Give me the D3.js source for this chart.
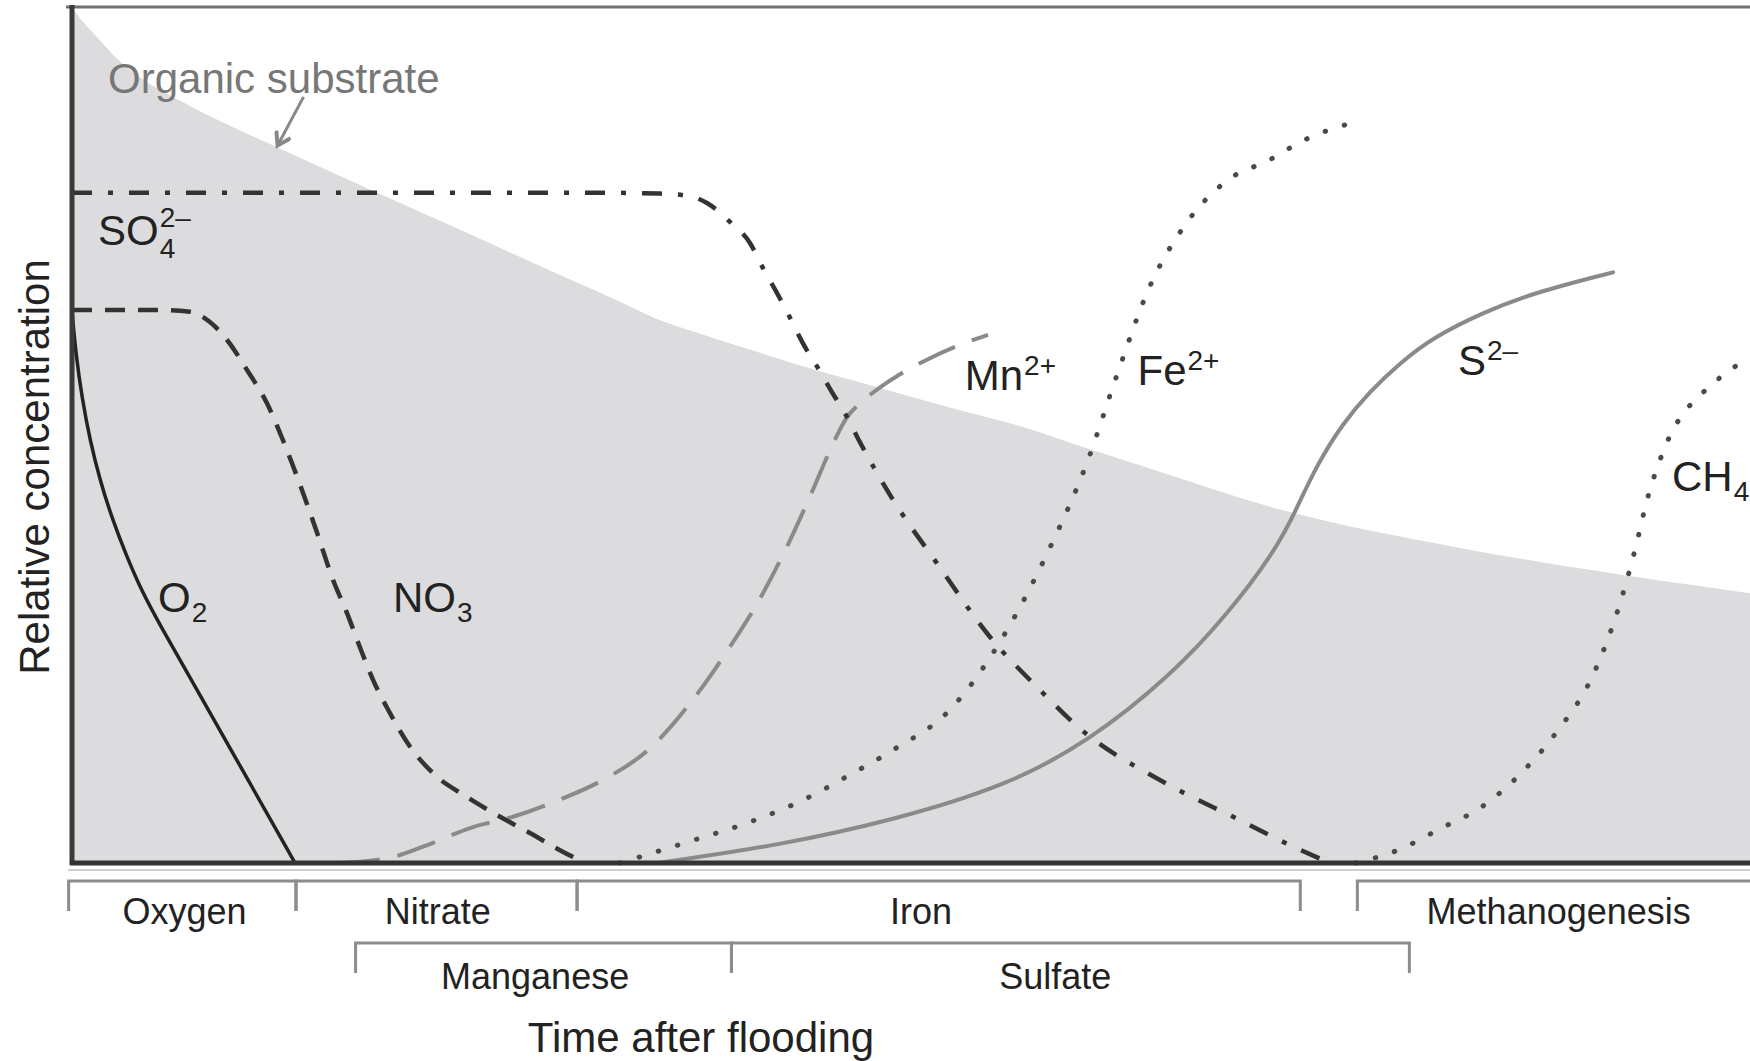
<!DOCTYPE html>
<html>
<head>
<meta charset="utf-8">
<script src="https://cdn.jsdelivr.net/npm/d3@7"></script>
<style>
  body { margin: 0; background: #fff; }
  text { font-family: "Liberation Sans", Arial, sans-serif; }
</style>
</head>
<body>
<script>
var width = 1750, height = 1061;
var plot = {left: 72, right: 1750, top: 7, bottom: 863};

// each series is [time after flooding, relative concentration], both 0-100
var organic = [[0,99.9],[0.48,98.7],[1.67,96.1],[2.56,94.2],[4.05,91.8],[6.67,88.8],[12.57,83.3],
  [18.53,78.0],[23.66,73.5],[29.08,68.7],[31.05,67.0],[33.08,65.2],[35.04,63.4],[37.01,62.1],
  [41.0,59.6],[44.99,57.2],[48.15,55.5],[52.92,52.9],[56.91,50.8],[60.25,48.6],[64.24,46.1],
  [72.17,41.2],[82.48,36.9],[91.6,33.9],[100,31.5]];
var o2 = [[0,64.4],[0.24,59.3],[0.6,54.3],[1.07,49.4],[1.67,44.7],[2.38,40.3],[3.22,36.0],
  [4.17,31.7],[5.24,27.8],[7.63,19.6],[10.61,9.3],[13.29,0]];
var no3 = [[0,64.6],[5.24,64.6],[7.03,64.4],[8.22,63.2],[9.24,61.1],[10.43,57.6],[11.62,53.7],
  [12.57,49.4],[13.59,44.2],[14.6,38.6],[15.55,33.1],[16.39,29.2],[17.16,25.2],[17.94,21.4],
  [18.95,17.5],[20.14,13.6],[21.51,10.5],[23.54,7.7],[25.51,5.4],[27.29,3.5],[29.08,1.5],[30.57,0]];
var so4 = [[0,78.3],[31.47,78.3],[35.04,78.2],[36.83,77.9],[37.84,77.1],[39.21,74.9],[40.41,72.4],
  [41.18,69.5],[42.01,66.6],[42.79,63.7],[43.62,60.5],[44.46,57.8],[45.29,55.0],[46.19,52.1],
  [46.84,49.6],[48.81,42.8],[51.55,35.0],[54.71,26.4],[57.69,20.2],[59.95,15.9],[65.2,9.3],
  [69.61,5.0],[72.35,2.3],[74.97,0]];
var mn = [[15.97,0],[19.13,0.7],[20.92,1.9],[23.9,4.2],[26.28,5.4],[29.08,7.4],[31.64,9.7],
  [34.45,13.4],[36.77,18.5],[39.09,24.9],[41.06,31.1],[42.79,37.7],[44.22,43.9],[45.17,48.2],
  [46.19,52.1],[47.08,53.9],[47.97,55.3],[49.34,57.1],[50.95,58.8],[52.62,60.3],[54.59,61.7]];
var fe = [[32.66,0],[36.77,2.5],[40.41,4.8],[43.62,7.4],[46.36,10.3],[48.93,13.2],[52.32,17.9],
  [55.54,26.6],[58.22,36.6],[60.55,47.1],[62.22,56.7],[64.24,67.4],[66.21,74.2],[68.89,79.8],
  [71.33,82.1],[73.48,84.5],[76.16,86.4]];
var s2 = [[34.92,0],[42.25,2.1],[48.93,5.0],[55.54,8.9],[60.55,14.1],[65.55,22.0],[68.89,29.1],
  [71.75,36.6],[72.94,41.2],[74.13,46.3],[75.74,51.4],[77.35,55.1],[79.14,58.4],[81.11,61.4],
  [84.09,64.3],[87.07,66.6],[91.84,69.0]];
var ch4 = [[76.52,0],[79.14,1.6],[81.53,4.0],[83.97,6.5],[86.71,11.2],[88.44,15.2],[90.7,22.2],
  [92.31,30.7],[93.15,36.6],[93.92,42.8],[94.64,47.1],[95.35,50.4],[96.19,52.9],[97.56,55.6],
  [98.81,57.6],[100,59.0]];

// electron acceptor stages shown as brackets under the time axis
var stageNames1 = ["Oxygen", "Nitrate", "Iron", "Methanogenesis"];
var stageFrom1 = [-0.2, 13.35, 30.1, 76.6];
var stageTo1 = [13.35, 30.1, 73.2, 101];
var stageLabel1 = [6.7, 21.8, 50.6, 88.6];
var stageNames2 = ["Manganese", "Sulfate"];
var stageFrom2 = [16.9, 39.3];
var stageTo2 = [39.3, 79.7];
var stageLabel2 = [27.6, 58.6];

var chemLabels = [
  {t: 1.55, c: 72.2, base: "SO", sup: "2–", sub: "4"},
  {t: 5.13, c: 29.3, base: "O", sub: "2"},
  {t: 19.13, c: 29.3, base: "NO", sub: "3"},
  {t: 53.2, c: 55.3, base: "Mn", sup: "2+"},
  {t: 63.5, c: 55.8, base: "Fe", sup: "2+"},
  {t: 82.6, c: 57.0, base: "S", sup: "2–"},
  {t: 95.35, c: 43.5, base: "CH", sub: "4"}
];

var x = d3.scaleLinear().domain([0, 100]).range([plot.left, plot.right]);
var y = d3.scaleLinear().domain([0, 100]).range([plot.bottom, plot.top]);

var svg = d3.select("body").append("svg")
  .attr("width", width)
  .attr("height", height);

svg.append("defs").append("marker")
  .attr("id", "arrow")
  .attr("viewBox", "0 0 10 10")
  .attr("refX", 7).attr("refY", 5)
  .attr("markerWidth", 6).attr("markerHeight", 6)
  .attr("orient", "auto")
  .append("path")
  .attr("d", "M1,0.5 L8,5 L1,9.5")
  .attr("fill", "none")
  .attr("stroke", "#888")
  .attr("stroke-width", 2.2);

// organic substrate (grey area)
var area = d3.area()
  .x(function(d) { return x(d[0]); })
  .y0(y(0))
  .y1(function(d) { return y(d[1]); })
  .curve(d3.curveMonotoneX);

svg.append("path")
  .datum(organic)
  .attr("d", area)
  .attr("fill", "#dcdcde");

function lineWith(curve) {
  return d3.line()
    .x(function(d) { return x(d[0]); })
    .y(function(d) { return y(d[1]); })
    .curve(curve);
}

var series = [
  {data: mn, color: "#8a8a8a", width: 4, dash: "40 18", cap: "butt", curve: d3.curveMonotoneX},
  {data: s2, color: "#8a8a8a", width: 4, dash: null, cap: "round", curve: d3.curveBasis},
  {data: fe, color: "#4a4a4a", width: 5, dash: "0.5 19.5", cap: "round", curve: d3.curveMonotoneX},
  {data: ch4, color: "#4a4a4a", width: 5, dash: "0.5 19.5", cap: "round", curve: d3.curveMonotoneX},
  {data: so4, color: "#333", width: 4.5, dash: "20 16 5 16", cap: "butt", curve: d3.curveMonotoneX},
  {data: no3, color: "#333", width: 4.5, dash: "20 13", cap: "butt", curve: d3.curveMonotoneX},
  {data: o2, color: "#222", width: 3.5, dash: null, cap: "butt", curve: d3.curveBasis}
];

svg.append("g")
  .selectAll("path")
  .data(series)
  .enter()
  .append("path")
  .attr("d", function(d) { return lineWith(d.curve)(d.data); })
  .attr("fill", "none")
  .attr("stroke", function(d) { return d.color; })
  .attr("stroke-width", function(d) { return d.width; })
  .attr("stroke-dasharray", function(d) { return d.dash; })
  .attr("stroke-linecap", function(d) { return d.cap; });

// frame: top border, left and bottom axes
svg.append("line")
  .attr("x1", plot.left - 6).attr("x2", plot.right)
  .attr("y1", plot.top).attr("y2", plot.top)
  .attr("stroke", "#707070").attr("stroke-width", 3);
svg.append("line")
  .attr("x1", plot.left - 4).attr("x2", plot.right)
  .attr("y1", plot.bottom + 7).attr("y2", plot.bottom + 7)
  .attr("stroke", "#cfcfcf").attr("stroke-width", 2);
svg.append("line")
  .attr("x1", x(0)).attr("x2", x(0))
  .attr("y1", plot.top - 2).attr("y2", plot.bottom + 2)
  .attr("stroke", "#3a3a3a").attr("stroke-width", 5);
svg.append("line")
  .attr("x1", plot.left - 2).attr("x2", plot.right)
  .attr("y1", y(0)).attr("y2", y(0))
  .attr("stroke", "#333").attr("stroke-width", 5);

// stage brackets
function brackets(names, from, to, labelAt, lineY, tickY, textY) {
  var g = svg.append("g");
  names.forEach(function(name, i) {
    g.append("path")
      .attr("d", "M" + x(from[i]) + "," + tickY + "V" + lineY + "H" + x(to[i]) + "V" + tickY)
      .attr("fill", "none")
      .attr("stroke", "#8c8c8c")
      .attr("stroke-width", 3);
    g.append("text")
      .attr("x", x(labelAt[i]))
      .attr("y", textY)
      .attr("text-anchor", "middle")
      .attr("font-size", 36)
      .attr("fill", "#222")
      .text(name);
  });
}
brackets(stageNames1, stageFrom1, stageTo1, stageLabel1, 881, 911, 924);
brackets(stageNames2, stageFrom2, stageTo2, stageLabel2, 943, 973, 989);

// chemical species labels
chemLabels.forEach(function(d) {
  var g = svg.append("g")
    .attr("transform", "translate(" + x(d.t) + "," + y(d.c) + ")");
  var main = g.append("text").attr("font-size", 42).attr("fill", "#222").text(d.base);
  var w = main.node().getComputedTextLength();
  if (d.sup) {
    g.append("text").attr("x", w + 1).attr("y", d.sub ? -18 : -15)
      .attr("font-size", 28).attr("fill", "#222").text(d.sup);
  }
  if (d.sub) {
    g.append("text").attr("x", w + 1).attr("y", d.sup ? 13 : 10)
      .attr("font-size", 28).attr("fill", "#222").text(d.sub);
  }
});

// organic substrate label and arrow
svg.append("text")
  .attr("x", x(2.15))
  .attr("y", y(90.0))
  .attr("font-size", 42)
  .attr("fill", "#777")
  .text("Organic substrate");

svg.append("line")
  .attr("x1", x(13.8)).attr("y1", y(89.5))
  .attr("x2", x(12.3)).attr("y2", y(84.0))
  .attr("stroke", "#888")
  .attr("stroke-width", 3)
  .attr("marker-end", "url(#arrow)");

// axis titles
svg.append("text")
  .attr("transform", "translate(49," + ((plot.top + plot.bottom) / 2 + 32) + ") rotate(-90)")
  .attr("text-anchor", "middle")
  .attr("font-size", 42)
  .attr("fill", "#222")
  .text("Relative concentration");

svg.append("text")
  .attr("x", 701)
  .attr("y", 1052)
  .attr("text-anchor", "middle")
  .attr("font-size", 42)
  .attr("fill", "#222")
  .text("Time after flooding");
</script>
</body>
</html>
